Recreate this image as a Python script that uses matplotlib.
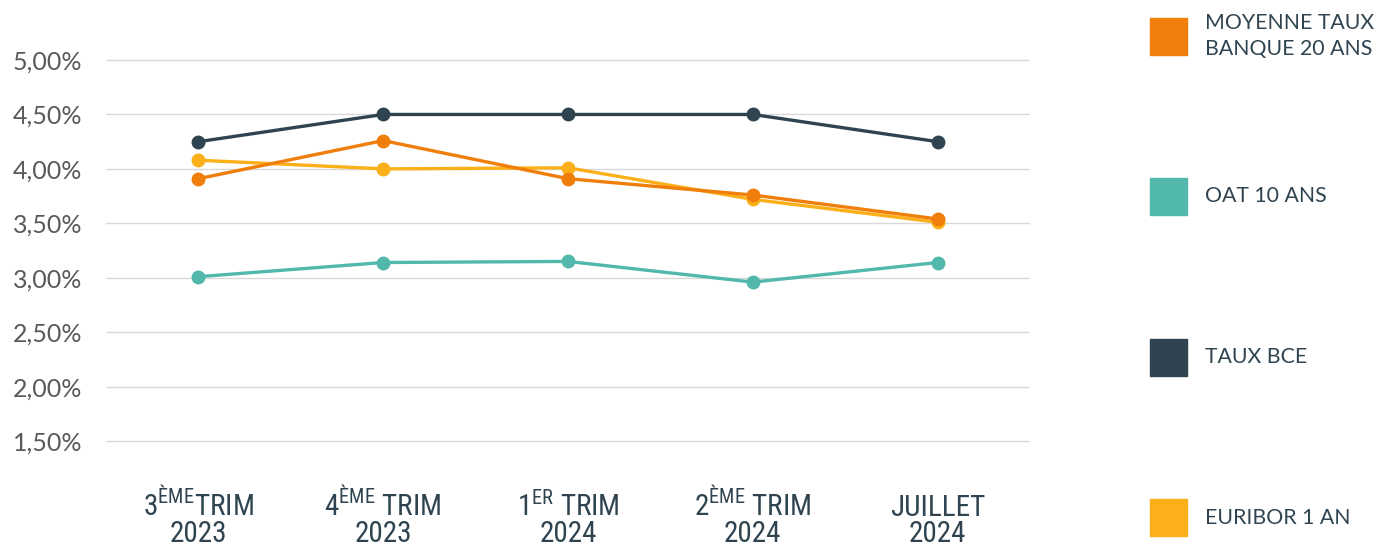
import matplotlib.pyplot as plt
from matplotlib.patches import Rectangle
from matplotlib.ticker import FuncFormatter
from matplotlib import font_manager

plt.rcParams["font.family"] = ["Lato", "DejaVu Sans"]

LABEL_FONT = "Lato"
for name in ["Liberation Sans Narrow", "Roboto Condensed", "DejaVu Sans Condensed"]:
    try:
        font_manager.findfont(name, fallback_to_default=False)
        LABEL_FONT = name
        break
    except ValueError:
        pass

plt.rcParams["mathtext.fontset"] = "custom"
plt.rcParams["mathtext.rm"] = LABEL_FONT

PERIOD_TOP = [
    "3$^{\\mathregular{ÈME}}$TRIM",
    "4$^{\\mathregular{ÈME}}$ TRIM",
    "1$^{\\mathregular{ER}}$ TRIM",
    "2$^{\\mathregular{ÈME}}$ TRIM",
    "JUILLET",
]
PERIOD_YEAR = ["2023", "2023", "2024", "2024", "2024"]

MOYENNE_BANQUE_20 = [3.91, 4.26, 3.91, 3.76, 3.54]
OAT_10 = [3.01, 3.14, 3.15, 2.96, 3.14]
TAUX_BCE = [4.25, 4.50, 4.50, 4.50, 4.25]
EURIBOR_1 = [4.08, 4.00, 4.01, 3.72, 3.51]

Y_TICKS = [1.5, 2.0, 2.5, 3.0, 3.5, 4.0, 4.5, 5.0]

COLORS = {
    "orange": "#f07e0a",
    "teal": "#52b8ab",
    "slate": "#2f4450",
    "yellow": "#fbb01a",
}

SERIES = [
    ("MOYENNE TAUX\nBANQUE 20 ANS", MOYENNE_BANQUE_20, COLORS["orange"]),
    ("OAT 10 ANS", OAT_10, COLORS["teal"]),
    ("TAUX BCE", TAUX_BCE, COLORS["slate"]),
    ("EURIBOR 1 AN", EURIBOR_1, COLORS["yellow"]),
]


def main():
    W, H = 1376, 549
    fig = plt.figure(figsize=(W / 100, H / 100), dpi=100)
    # axes box in pixels: x 106..1030, y 40..470 (from top)
    ax = fig.add_axes([106 / W, (H - 470) / H, (1030 - 106) / W, 430 / H])

    x = list(range(len(PERIOD_TOP)))
    draw_order = [3, 0, 2, 1]
    for idx in draw_order:
        label, values, color = SERIES[idx]
        ax.plot(x, values, color=color, linewidth=2.4, marker="o",
                markersize=9, solid_capstyle="round", zorder=3)

    ax.set_xlim(-0.5, 4.5)
    ax.set_ylim(1.234, 5.184)
    ax.set_yticks(Y_TICKS)
    ax.yaxis.set_major_formatter(
        FuncFormatter(lambda v, _: f"{v:.2f}%".replace(".", ","))
    )
    ax.set_xticks(x)
    ax.set_xticklabels([])
    ax.tick_params(axis="x", length=0)
    ax.tick_params(axis="y", length=0, pad=17, labelsize=18,
                   labelcolor="#595959")
    ax.grid(axis="y", color="#d9d9d9", linewidth=1)
    ax.set_axisbelow(True)
    for spine in ax.spines.values():
        spine.set_visible(False)

    # two-line category labels, placed by hand so the superscripts line up
    trans = ax.get_xaxis_transform()
    for xi, top, year in zip(x, PERIOD_TOP, PERIOD_YEAR):
        ax.text(xi, -(516 - 470) / 430, top, transform=trans, ha="center",
                va="baseline", fontsize=21, color=COLORS["slate"],
                family=LABEL_FONT, clip_on=False)
        ax.text(xi, -(542 - 470) / 430, year, transform=trans, ha="center",
                va="baseline", fontsize=21, color=COLORS["slate"],
                family=LABEL_FONT, clip_on=False)

    # legend on the right: coloured squares with labels
    for i, (label, values, color) in enumerate(SERIES):
        cy = 36 + 160.5 * i
        fig.add_artist(Rectangle((1150 / W, (H - cy - 18.5) / H), 37 / W, 37 / H,
                                 transform=fig.transFigure, color=color))
        fig.text(1205 / W, (H - cy) / H, label, fontsize=15.3,
                 color=COLORS["slate"], va="center", ha="left",
                 linespacing=1.35)

    fig.savefig("out.png", dpi=100)
    plt.close(fig)


if __name__ == "__main__":
    main()
